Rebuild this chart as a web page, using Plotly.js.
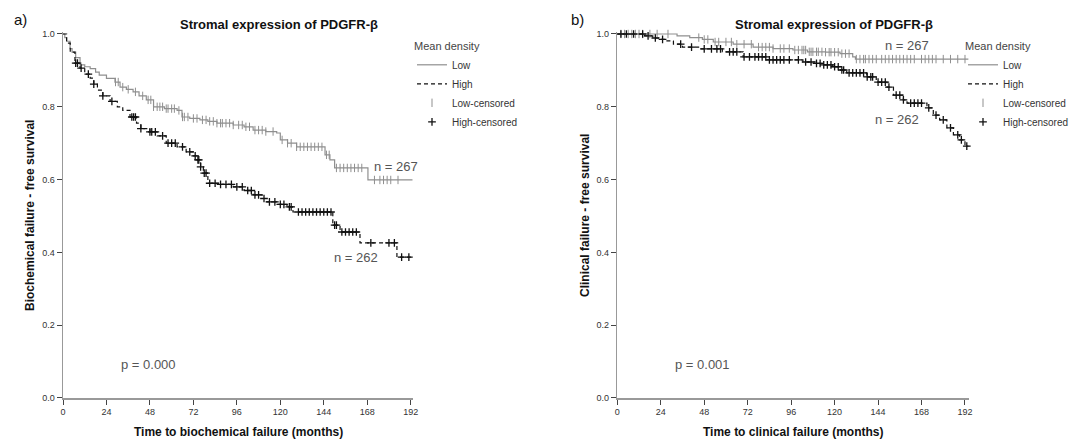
<!DOCTYPE html>
<html><head><meta charset="utf-8">
<script src="https://cdn.plot.ly/plotly-3.0.1.min.js"></script>
<style>html,body{margin:0;padding:0;background:#fff}#chart{width:1079px;height:440px}</style>
</head><body><div id="chart"></div>
<script>
const xTicks = [0, 24, 48, 72, 96, 120, 144, 168, 192];
const yTicks = [0, 0.2, 0.4, 0.6, 0.8, 1.0];
const legendLabels = ['Low', 'High', 'Low-censored', 'High-censored'];

// Panel a) biochemical failure
const timeLowA = [0, 1, 2, 3.9, 5, 7, 9.4, 12, 15, 18, 20, 24, 28.7, 31.5, 35, 38.7, 42, 46, 50, 56, 63, 65.7, 70, 75.6, 80, 85, 94, 100, 105, 112, 118, 120, 124, 129, 144.7, 147.4, 150, 168.4, 193];
const survLowA = [1, 0.99, 0.98, 0.96, 0.95, 0.935, 0.915, 0.91, 0.905, 0.895, 0.887, 0.878, 0.868, 0.854, 0.848, 0.841, 0.83, 0.819, 0.80, 0.795, 0.79, 0.772, 0.768, 0.764, 0.76, 0.755, 0.75, 0.745, 0.736, 0.732, 0.728, 0.709, 0.70, 0.69, 0.668, 0.654, 0.632, 0.599, 0.599];
const censLowA = [29, 30.5, 33, 36, 40, 44, 47, 48.5, 50, 52, 53.5, 55, 57, 58, 60, 61.5, 64, 66, 67, 69, 72, 74, 77, 79, 81, 83, 85, 87, 88, 90, 92, 94, 97, 99, 101, 103, 106, 108, 110, 112, 116, 121, 124, 126, 129, 131, 133, 135, 137, 139, 141, 143, 145.5, 147, 151, 153, 155, 157, 159, 161, 163, 165, 172, 175, 177, 179, 181, 185];

const timeHighA = [0, 2, 4, 6.6, 9.4, 12, 15, 17, 19, 22, 26, 30, 33, 37, 40.6, 43, 48, 52, 57, 63, 68, 72, 74, 76, 77.5, 80, 86, 94, 100, 105, 110, 112.6, 118, 123.7, 127, 149, 153, 164, 184.4, 193];
const survHighA = [1, 0.975, 0.95, 0.92, 0.906, 0.89, 0.879, 0.862, 0.846, 0.83, 0.815, 0.80, 0.79, 0.772, 0.755, 0.74, 0.731, 0.72, 0.70, 0.69, 0.676, 0.665, 0.654, 0.635, 0.618, 0.59, 0.587, 0.58, 0.57, 0.558, 0.548, 0.539, 0.532, 0.525, 0.511, 0.475, 0.456, 0.426, 0.387, 0.387];
const censHighA = [7, 8, 10, 14, 17, 22, 27, 38, 39, 40, 43, 48, 49, 51, 55, 58, 60, 62, 66, 70, 73, 74.5, 75, 76, 78, 79, 81, 84, 87, 90, 93, 96, 99, 102, 104, 106, 108, 111, 114, 117, 120, 122, 125, 126, 130, 132, 134, 136, 138, 140, 142, 144, 146, 148, 150, 151, 154, 156, 158, 160, 162, 170, 180, 183, 187, 191];

// Panel b) clinical failure
const timeLowB = [0, 33, 40, 47, 53, 64, 75, 86, 97, 105, 115, 123, 130, 131.5, 194];
const survLowB = [1, 0.995, 0.99, 0.985, 0.978, 0.972, 0.964, 0.96, 0.956, 0.951, 0.95, 0.946, 0.937, 0.931, 0.931];
const censLowB = [2, 4, 6, 8, 10, 12, 14, 18, 22, 28, 45, 48, 50, 54, 56, 60, 63, 66, 70, 74, 78, 80, 82, 84, 86, 90, 92, 95, 98, 100, 102, 103, 104, 106, 107, 108, 110, 111, 113, 115, 117, 118, 120, 122, 124, 126, 128, 132, 134, 136, 137, 139, 141, 143, 146, 148, 150, 152, 154, 156, 158, 160, 162, 164, 168, 170, 172, 174, 176, 180, 184, 188, 192];

const timeHighB = [0, 15, 19.6, 23, 27, 31, 36, 45.6, 58, 69.5, 82.5, 102.5, 110, 113.6, 119, 123, 126.7, 137.8, 143, 149, 152.5, 158, 160, 171, 174.5, 178, 182, 185.6, 189, 192, 194];
const survHighB = [1, 0.995, 0.989, 0.985, 0.981, 0.972, 0.964, 0.959, 0.951, 0.937, 0.929, 0.923, 0.919, 0.915, 0.91, 0.901, 0.893, 0.882, 0.868, 0.854, 0.832, 0.819, 0.81, 0.797, 0.777, 0.764, 0.742, 0.723, 0.709, 0.692, 0.692];
const censHighB = [2, 5, 9, 14, 17, 21, 25, 35, 41, 48, 52, 55, 57, 62, 64, 66, 70, 73, 76, 78, 80, 82, 84, 86, 88, 90, 92, 95, 100, 104, 107, 110, 112, 114, 116, 118, 120, 122, 124, 125, 128, 130, 132, 134, 136, 138, 140, 141, 144, 146, 148, 150, 154, 156, 158, 162, 164, 166, 168, 172, 176, 180, 184, 188, 190, 193];

function survAt(ts, ss, t) {
  let s = ss[0];
  for (let i = 0; i < ts.length; i++) { if (ts[i] <= t) s = ss[i]; else break; }
  return s;
}

const FONT = 'Liberation Sans, Arial, sans-serif';
const GRAY = '#8f8f8f';
const BLACK = '#111111';

function panelTraces(tL, sL, cL, tH, sH, cH, xa, ya, lg) {
  return [
    {x: tL, y: sL, mode: 'lines', line: {shape: 'hv', color: GRAY, width: 1.2}, name: legendLabels[0], xaxis: xa, yaxis: ya, legend: lg, hoverinfo: 'skip'},
    {x: tH, y: sH, mode: 'lines', line: {shape: 'hv', color: BLACK, width: 1.2, dash: '4px,3px'}, name: legendLabels[1], xaxis: xa, yaxis: ya, legend: lg, hoverinfo: 'skip'},
    {x: cL, y: cL.map(t => survAt(tL, sL, t)), mode: 'markers', marker: {symbol: 'line-ns', size: 6, color: GRAY, line: {color: GRAY, width: 1}}, name: legendLabels[2], xaxis: xa, yaxis: ya, legend: lg, cliponaxis: false, hoverinfo: 'skip'},
    {x: cH, y: cH.map(t => survAt(tH, sH, t)), mode: 'markers', marker: {symbol: 'cross-thin', size: 5.5, color: BLACK, line: {color: BLACK, width: 1.3}}, name: legendLabels[3], xaxis: xa, yaxis: ya, legend: lg, cliponaxis: false, hoverinfo: 'skip'}
  ];
}

const data = [].concat(
  panelTraces(timeLowA, survLowA, censLowA, timeHighA, survHighA, censHighA, 'x', 'y', 'legend'),
  panelTraces(timeLowB, survLowB, censLowB, timeHighB, survHighB, censHighB, 'x2', 'y2', 'legend2')
);

function xAxis(domain, range, anchor) {
  return {domain: domain, range: range, anchor: anchor, tickvals: xTicks, ticktext: xTicks.map(String),
    ticks: 'outside', ticklen: 5, tickwidth: 1, tickcolor: '#444', showline: true, linecolor: '#999', linewidth: 1.5,
    showgrid: false, zeroline: false, tickfont: {family: FONT, size: 9, color: '#333'}, fixedrange: true};
}
function yAxis(domain, anchor) {
  return {domain: domain, range: [0, 1.006], anchor: anchor, tickvals: yTicks, tickformat: '.1f',
    ticks: 'outside', ticklen: 5, tickwidth: 1, tickcolor: '#444', showline: true, linecolor: '#999', linewidth: 1.5,
    showgrid: false, zeroline: false, tickfont: {family: FONT, size: 9, color: '#333'}, fixedrange: true};
}

const yDom = [0.09545, 0.92773];
const legendCommon = {xanchor: 'left', yanchor: 'top', bgcolor: 'rgba(0,0,0,0)', tracegroupgap: 0, itemwidth: 30,
  font: {family: FONT, size: 10, color: '#333'}, traceorder: 'normal'};

const titleText = 'Stromal expression of PDGFR-β';
const ann = [];
function addText(o) { ann.push(Object.assign({showarrow: false, xanchor: 'center', yanchor: 'middle', font: {family: FONT, size: 13, color: '#555'}}, o)); }
// panel labels
addText({xref: 'paper', yref: 'paper', x: 20 / 1079, y: 1 - 19 / 440, text: 'a)', font: {family: FONT, size: 15, color: '#111'}});
addText({xref: 'paper', yref: 'paper', x: 577 / 1079, y: 1 - 19 / 440, text: 'b)', font: {family: FONT, size: 15, color: '#111'}});
// panel titles
addText({xref: 'paper', yref: 'paper', x: 279 / 1079, y: 1 - 24 / 440, text: '<b>' + titleText + '</b>', font: {family: FONT, size: 13, color: '#111'}});
addText({xref: 'paper', yref: 'paper', x: 834 / 1079, y: 1 - 24 / 440, text: '<b>' + titleText + '</b>', font: {family: FONT, size: 13, color: '#111'}});
// axis titles
addText({xref: 'paper', yref: 'paper', x: 238 / 1079, y: 1 - 432 / 440, text: '<b>Time to biochemical failure (months)</b>', font: {family: FONT, size: 12, color: '#111'}});
addText({xref: 'paper', yref: 'paper', x: 793 / 1079, y: 1 - 432 / 440, text: '<b>Time to clinical failure (months)</b>', font: {family: FONT, size: 12, color: '#111'}});
addText({xref: 'paper', yref: 'paper', x: 30 / 1079, y: 1 - 216 / 440, text: '<b>Biochemical failure - free survival</b>', textangle: -90, font: {family: FONT, size: 12, color: '#111'}});
addText({xref: 'paper', yref: 'paper', x: 585 / 1079, y: 1 - 216 / 440, text: '<b>Clinical failure - free survival</b>', textangle: -90, font: {family: FONT, size: 12, color: '#111'}});
// in-plot labels
addText({xref: 'x', yref: 'y', x: 184, y: 0.635, text: 'n = 267'});
addText({xref: 'x', yref: 'y', x: 162, y: 0.387, text: 'n = 262'});
addText({xref: 'x', yref: 'y', x: 47, y: 0.093, text: 'p = 0.000'});
addText({xref: 'x2', yref: 'y2', x: 160, y: 0.967, text: 'n = 267'});
addText({xref: 'x2', yref: 'y2', x: 154.4, y: 0.766, text: 'n = 262'});
addText({xref: 'x2', yref: 'y2', x: 47.3, y: 0.093, text: 'p = 0.001'});

const layout = {
  width: 1079, height: 440, margin: {l: 0, r: 0, t: 0, b: 0},
  paper_bgcolor: '#fff', plot_bgcolor: '#fff', showlegend: true,
  font: {family: FONT},
  xaxis: xAxis([0.05839, 0.38313], [0, 193.5], 'y'),
  yaxis: yAxis(yDom, 'x'),
  xaxis2: xAxis([0.57210, 0.89769], [0, 194], 'y2'),
  yaxis2: yAxis(yDom, 'x2'),
  legend: Object.assign({x: 412 / 1079, y: 1 - 36 / 440, title: {text: 'Mean density', font: {family: FONT, size: 11, color: '#444'}}}, legendCommon),
  legend2: Object.assign({x: 963 / 1079, y: 1 - 36 / 440, title: {text: 'Mean density', font: {family: FONT, size: 11, color: '#444'}}}, legendCommon),
  annotations: ann
};

Plotly.newPlot('chart', data, layout, {displayModeBar: false, staticPlot: true});
</script></body></html>
